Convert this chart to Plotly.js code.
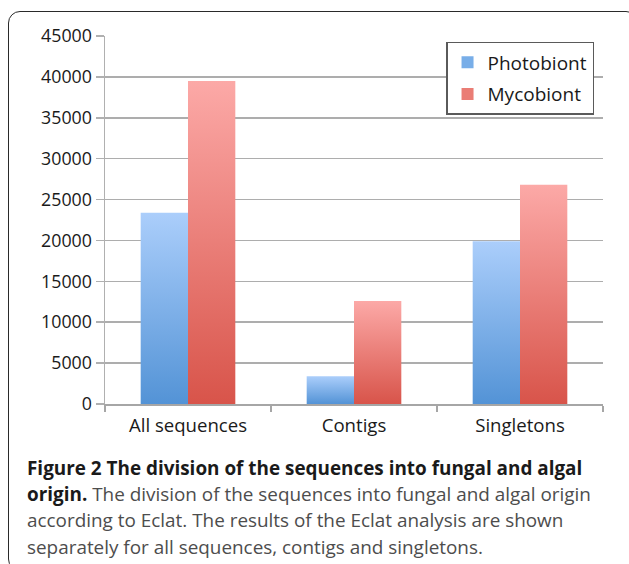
<!DOCTYPE html>
<html>
<head>
<meta charset="utf-8">
<script src="https://cdn.plot.ly/plotly-3.0.1.min.js"></script>
<style>
  html, body { margin: 0; padding: 0; background: #ffffff; width: 629px; height: 564px; overflow: hidden; }
  #frame { position: absolute; left: 8px; top: 11px; width: 630px; height: 560px; border: 1.6px solid #2a2a2a; border-radius: 12px; box-sizing: border-box; }
  #chart { position: absolute; left: 0; top: 0; width: 629px; height: 450px; }
  #caption { position: absolute; left: 27px; top: 455px; width: 600px; font-family: "Open Sans", sans-serif; font-size: 18.9px; line-height: 26.2px; color: #4d4d4d; white-space: nowrap; }
  #caption b { color: #1a1a1a; font-weight: 700; }
</style>
</head>
<body>
<div id="frame"></div>
<div id="chart"></div>
<div id="caption"><b>Figure 2 The division of the sequences into fungal and algal<br>origin.</b> The division of the sequences into fungal and algal origin<br>according to Eclat. The results of the Eclat analysis are shown<br>separately for all sequences, contigs and singletons.</div>
<script>
const categories = ["All sequences", "Contigs", "Singletons"];
const seriesNames = ["Photobiont", "Mycobiont"];
const photobiont = [23400, 3400, 19900];
const mycobiont = [39500, 12600, 26800];
const yTickVals = [0, 5000, 10000, 15000, 20000, 25000, 30000, 35000, 40000, 45000];

const font = { family: "Open Sans, sans-serif", size: 17.8, color: "#1a1a1a" };
const catFont = { family: "Open Sans, sans-serif", size: 18.6, color: "#1a1a1a" };
const legFont = { family: "Open Sans, sans-serif", size: 19, color: "#1a1a1a" };

const traces = [
  { type: "bar", name: seriesNames[0], x: categories, y: photobiont, legendgroup: "a",
    marker: { color: "#78aee8", line: { width: 0 } }, hoverinfo: "none" },
  { type: "bar", name: seriesNames[1], x: categories, y: mycobiont, legendgroup: "b",
    marker: { color: "#ea7d75", line: { width: 0 } }, hoverinfo: "none" }
];

const layout = {
  width: 629, height: 450,
  margin: { l: 105, r: 26, t: 36, b: 46 },
  paper_bgcolor: "rgba(0,0,0,0)",
  plot_bgcolor: "rgba(0,0,0,0)",
  font: font,
  barmode: "group",
  bargap: 0.43,
  bargroupgap: 0,
  showlegend: true,
  legend: {
    x: 0.982, xanchor: "right", y: 0.984, yanchor: "top",
    bgcolor: "#ffffff", bordercolor: "#5a5a5a", borderwidth: 1.5,
    font: legFont, traceorder: "grouped", tracegroupgap: 4,
    itemwidth: 30
  },
  xaxis: {
    type: "category",
    showline: true, linecolor: "#a6a6a6", linewidth: 1.5,
    showgrid: false, zeroline: false,
    ticks: "outside", tickson: "boundaries", ticklen: 6, tickcolor: "#a6a6a6", tickwidth: 1.5,
    ticklabelstandoff: 4,
    tickfont: catFont
  },
  yaxis: {
    range: [0, 45000],
    tickvals: yTickVals,
    tickformat: "d",
    showline: true, linecolor: "#b0b0b0", linewidth: 1.5,
    showgrid: true, gridcolor: "#adadad", gridwidth: 1.6,
    zeroline: false,
    ticks: "outside", ticklen: 8, tickcolor: "#b0b0b0", tickwidth: 1.5,
    tickfont: font
  }
};

Plotly.newPlot("chart", traces, layout, { displayModeBar: false, staticPlot: true }).then(function (gd) {
  const ns = "http://www.w3.org/2000/svg";
  const svg = gd.querySelector("svg.main-svg");
  let defs = svg.querySelector("defs");
  if (!defs) { defs = document.createElementNS(ns, "defs"); svg.insertBefore(defs, svg.firstChild); }
  const grads = [["#abcefb", "#5393d6"], ["#fca9a7", "#d8544a"]];
  grads.forEach(function (g, i) {
    const lg = document.createElementNS(ns, "linearGradient");
    lg.setAttribute("id", "barGrad" + i);
    lg.setAttribute("x1", "0"); lg.setAttribute("y1", "0");
    lg.setAttribute("x2", "0"); lg.setAttribute("y2", "1");
    [[0, g[0]], [1, g[1]]].forEach(function (s) {
      const st = document.createElementNS(ns, "stop");
      st.setAttribute("offset", s[0]);
      st.setAttribute("stop-color", s[1]);
      lg.appendChild(st);
    });
    defs.appendChild(lg);
  });
  gd.querySelectorAll(".barlayer .trace").forEach(function (tr, i) {
    tr.querySelectorAll("path").forEach(function (p) { p.style.fill = "url(#barGrad" + i + ")"; });
  });
});
</script>
</body>
</html>
